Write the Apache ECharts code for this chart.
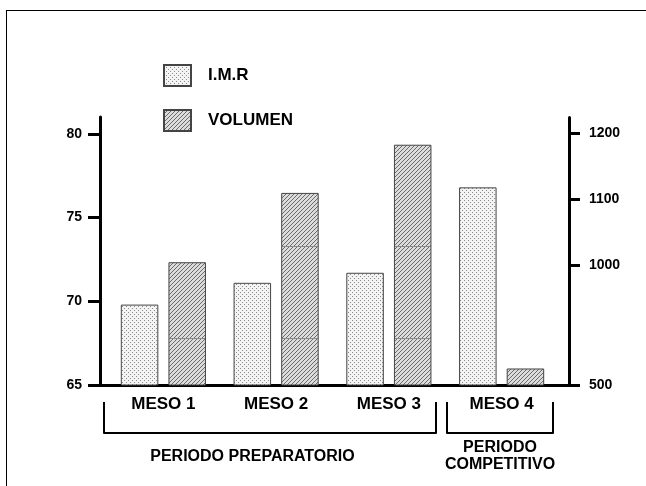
<!DOCTYPE html>
<html>
<head>
<meta charset="utf-8">
<script src="https://cdn.jsdelivr.net/npm/echarts@6/dist/echarts.min.js"></script>
<style>
  html, body { margin: 0; padding: 0; background: #fff; }
  #main { width: 646px; height: 486px; position: relative; }
  /* marco exterior (arriba e izquierda) */
  .frame { position: absolute; left: 6px; top: 10px; right: 0; bottom: -2px;
           border-top: 1px solid #000; border-left: 1px solid #000; pointer-events: none; }
</style>
</head>
<body>
<div id="main"></div>
<div class="frame"></div>
<script>
// datos
const categories = ["MESO 1", "MESO 2", "MESO 3", "MESO 4"];
const imr = [69.8, 71.1, 71.7, 76.8];
const volumen = [1005, 1110, 1183, 525];
const imrTicks = [65, 70, 75, 80];
const volTicks = [500, 1000, 1100, 1200];
const periodos = ["PERIODO PREPARATORIO", "PERIODO\nCOMPETITIVO"];

// tramas de relleno
function dotPattern() {
  let c = document.createElement("canvas");
  c.width = 4; c.height = 4;
  let ctx = c.getContext("2d");
  ctx.fillStyle = "#f4f4f4";
  ctx.fillRect(0, 0, 4, 4);
  ctx.fillStyle = "#8a8a8a";
  ctx.fillRect(0, 0, 1, 1);
  ctx.fillRect(2, 2, 1, 1);
  return c;
}
function hatchPattern() {
  let c = document.createElement("canvas");
  c.width = 4; c.height = 276;
  let ctx = c.getContext("2d");
  ctx.fillStyle = "#dcdcdc";
  ctx.fillRect(0, 0, 4, 276);
  ctx.fillStyle = "#6a6a6a";
  for (let y = 0; y < 276; y++) {
    ctx.fillRect((3 - (y % 4) + 4) % 4, y, 1, 1);
  }
  // costuras del mosaico original
  ctx.fillStyle = "#8c8c8c";
  ctx.fillRect(0, 62, 4, 1);
  ctx.fillRect(0, 246, 4, 1);
  return c;
}

const black = "#000";
const font = "'Liberation Sans', Arial, sans-serif";
const axisStyle = { color: black, width: 3 };

let myChart = echarts.init(document.getElementById("main"));
let option = {
  animation: false,
  textStyle: { fontFamily: font },
  legend: {
    orient: "vertical",
    left: 163,
    top: 64,
    padding: 0,
    itemWidth: 27,
    itemHeight: 21,
    itemGap: 22,
    icon: "rect",
    textStyle: { fontSize: 17, fontWeight: "bold", color: black, padding: [0, 0, 0, 12] },
    data: ["I.M.R", "VOLUMEN"]
  },
  grid: [
    { left: 107, top: 117, width: 451, height: 268 },   // barras
    { left: 100, top: 117, width: 469, height: 268 },   // línea base
    { left: 104, top: 400, width: 332, height: 33 },    // llave preparatorio
    { left: 447, top: 400, width: 106, height: 33 }     // llave competitivo
  ],
  xAxis: [
    {
      gridIndex: 0,
      type: "category",
      data: categories,
      axisLine: { show: false },
      axisTick: { show: false },
      axisLabel: { fontSize: 17, fontWeight: "bold", color: black, margin: 11 }
    },
    {
      gridIndex: 1,
      type: "category",
      data: [""],
      axisLine: { show: true, lineStyle: axisStyle },
      axisTick: { show: false },
      axisLabel: { show: false }
    },
    {
      gridIndex: 2,
      type: "category",
      data: [periodos[0]],
      axisLine: { show: true, lineStyle: { color: black, width: 2 } },
      axisTick: { show: true, inside: true, length: 31, lineStyle: { color: black, width: 2 } },
      axisLabel: { fontSize: 16, fontWeight: "bold", color: black, margin: 16, padding: [0, 35, 0, 0] }
    },
    {
      gridIndex: 3,
      type: "category",
      data: [periodos[1]],
      axisLine: { show: true, lineStyle: { color: black, width: 2 } },
      axisTick: { show: true, inside: true, length: 31, lineStyle: { color: black, width: 2 } },
      axisLabel: { fontSize: 16, fontWeight: "bold", color: black, margin: 6, lineHeight: 17 }
    }
  ],
  yAxis: [
    {
      gridIndex: 0,
      type: "value",
      position: "left",
      offset: 7,
      min: 65,
      max: 81,
      axisLine: { show: true, lineStyle: axisStyle },
      axisTick: { show: true, length: 12, lineStyle: axisStyle, customValues: imrTicks },
      axisLabel: { fontSize: 14, fontWeight: "bold", color: black, margin: 18, customValues: imrTicks },
      splitLine: { show: false }
    },
    {
      gridIndex: 0,
      type: "value",
      position: "right",
      offset: 11,
      min: 500,
      max: 1225,
      // eje cortado entre 500 y 1000
      breaks: [{ start: 535, end: 854, gap: 0 }],
      breakArea: { show: false },
      axisLine: { show: true, lineStyle: axisStyle },
      axisTick: { show: true, length: 11, lineStyle: axisStyle, customValues: volTicks },
      axisLabel: {
        fontSize: 14, fontWeight: "bold", color: black, margin: 20,
        customValues: volTicks,
        formatter: v => String(v)
      },
      splitLine: { show: false }
    },
    { gridIndex: 1, type: "value", show: false },
    { gridIndex: 2, type: "value", show: false },
    { gridIndex: 3, type: "value", show: false }
  ],
  series: [
    {
      name: "I.M.R",
      type: "bar",
      xAxisIndex: 0,
      yAxisIndex: 0,
      barWidth: 37.5,
      barGap: "27%",
      itemStyle: {
        color: { image: dotPattern(), repeat: "repeat" },
        borderColor: "#444",
        borderWidth: 1
      },
      data: imr
    },
    {
      name: "VOLUMEN",
      type: "bar",
      xAxisIndex: 0,
      yAxisIndex: 1,
      barWidth: 37.5,
      barGap: "27%",
      itemStyle: {
        color: { image: hatchPattern(), repeat: "repeat" },
        borderColor: "#444",
        borderWidth: 1
      },
      data: volumen
    }
  ]
};
myChart.setOption(option);
</script>
</body>
</html>
